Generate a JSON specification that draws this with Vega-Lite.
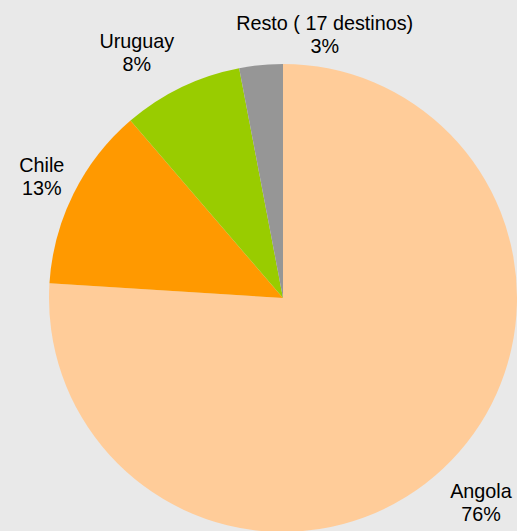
{
  "$schema": "https://vega.github.io/schema/vega-lite/v6.json",
  "width": 566,
  "height": 596,
  "autosize": {"type": "none"},
  "padding": 0,
  "background": "#e9e9e9",
  "config": {"view": {"stroke": null}, "text": {"font": "Liberation Sans", "fontSize": 19.8, "fill": "#000000"}},
  "data": {
    "values": [
      {"destino": "Angola", "valor": 76.0, "orden": 1, "etiqueta": "Angola\n76%"},
      {"destino": "Chile", "valor": 12.7, "orden": 2, "etiqueta": "Chile\n13%"},
      {"destino": "Uruguay", "valor": 8.3, "orden": 3, "etiqueta": "Uruguay\n8%"},
      {"destino": "Resto ( 17 destinos)", "valor": 3.0, "orden": 4, "etiqueta": "Resto ( 17 destinos)\n3%"}
    ]
  },
  "encoding": {
    "theta": {"field": "valor", "type": "quantitative", "stack": true},
    "order": {"field": "orden", "type": "quantitative"}
  },
  "layer": [
    {
      "mark": {"type": "arc", "outerRadius": 234},
      "encoding": {
        "color": {
          "field": "destino",
          "type": "nominal",
          "scale": {
            "domain": ["Angola", "Chile", "Uruguay", "Resto ( 17 destinos)"],
            "range": ["#ffcc99", "#ff9900", "#99cc00", "#969696"]
          },
          "legend": null
        }
      }
    },
    {
      "mark": {"type": "text", "radius": 276, "dx": 9, "dy": -7, "lineBreak": "\n", "lineHeight": 23, "align": "center", "baseline": "middle"},
      "encoding": {"text": {"condition": {"test": "datum.destino === 'Angola'", "field": "etiqueta"}, "value": ""}}
    },
    {
      "mark": {"type": "text", "radius": 275, "dx": 5, "dy": -9, "lineBreak": "\n", "lineHeight": 23, "align": "center", "baseline": "middle"},
      "encoding": {"text": {"condition": {"test": "datum.destino === 'Chile'", "field": "etiqueta"}, "value": ""}}
    },
    {
      "mark": {"type": "text", "radius": 295, "dx": -18, "dy": 10, "lineBreak": "\n", "lineHeight": 23, "align": "center", "baseline": "middle"},
      "encoding": {"text": {"condition": {"test": "datum.destino === 'Uruguay'", "field": "etiqueta"}, "value": ""}}
    },
    {
      "mark": {"type": "text", "radius": 269, "dx": 67, "dy": -6, "lineBreak": "\n", "lineHeight": 23, "align": "center", "baseline": "middle"},
      "encoding": {"text": {"condition": {"test": "datum.destino === 'Resto ( 17 destinos)'", "field": "etiqueta"}, "value": ""}}
    }
  ]
}
